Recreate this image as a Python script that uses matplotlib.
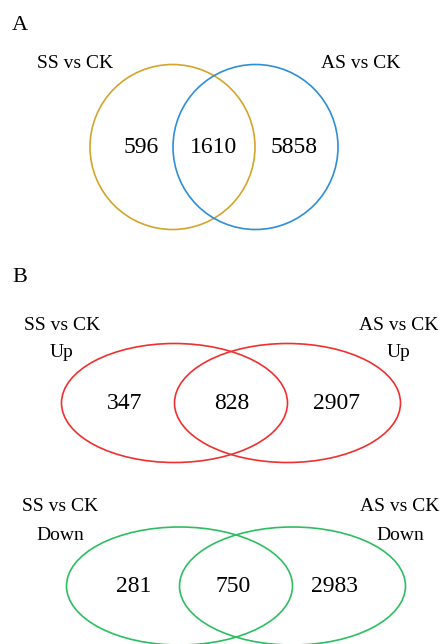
import matplotlib
matplotlib.use("Agg")
import matplotlib.pyplot as plt
from matplotlib.patches import Ellipse

plt.rcParams['font.family'] = ['Liberation Serif', 'DejaVu Serif']

# counts: left only, overlap, right only
counts_a = [596, 1610, 5858]
counts_up = [347, 828, 2907]
counts_down = [281, 750, 2983]

names_a = [["SS vs CK"], ["AS vs CK"]]
names_up = [["SS vs CK", "Up"], ["AS vs CK", "Up"]]
names_down = [["SS vs CK", "Down"], ["AS vs CK", "Down"]]

fig = plt.figure(figsize=(4.4, 6.44), dpi=100)
ax = fig.add_axes([0, 0, 1, 1])
ax.set_xlim(0, 440)
ax.set_ylim(644, 0)
ax.set_aspect("equal")
ax.axis("off")

def venn(cx, cy, dx, w, h, cols, counts, names, name_xy, gap, num_x):
    # two shapes, centred at cx-dx/2 and cx+dx/2
    for i, s in enumerate([-1, 1]):
        ax.add_patch(Ellipse((cx + s * dx / 2, cy), w, h, fill=False,
                             edgecolor=cols[i], lw=1.2))
    for x, n in zip(num_x, counts):
        ax.text(x, cy, str(n), fontsize=17, ha="center", va="center")
    for (x, y), lines in zip(name_xy, names):
        for k, ln in enumerate(lines):
            ax.text(x, y + k * gap, ln, fontsize=14, ha="center", va="center")

# panel A
ax.text(12, 25, "A", fontsize=16, ha="left", va="center")
venn(214, 147, 83, 165, 165, ["#D4A52C", "#2E8FD8"], counts_a, names_a,
     [(75, 63), (361, 63)], 0, [141, 214, 294])

# panel B
ax.text(12, 277, "B", fontsize=16, ha="left", va="center")
venn(231, 403, 113, 226, 119, ["#F03030", "#F03030"], counts_up, names_up,
     [(62, 325), (399, 325)], 27, [125, 232, 336])
venn(236, 586, 113, 226, 118, ["#2DBE62", "#2DBE62"], counts_down, names_down,
     [(60, 506), (400, 506)], 29, [134, 233, 334])

fig.savefig("out.png", dpi=100)
